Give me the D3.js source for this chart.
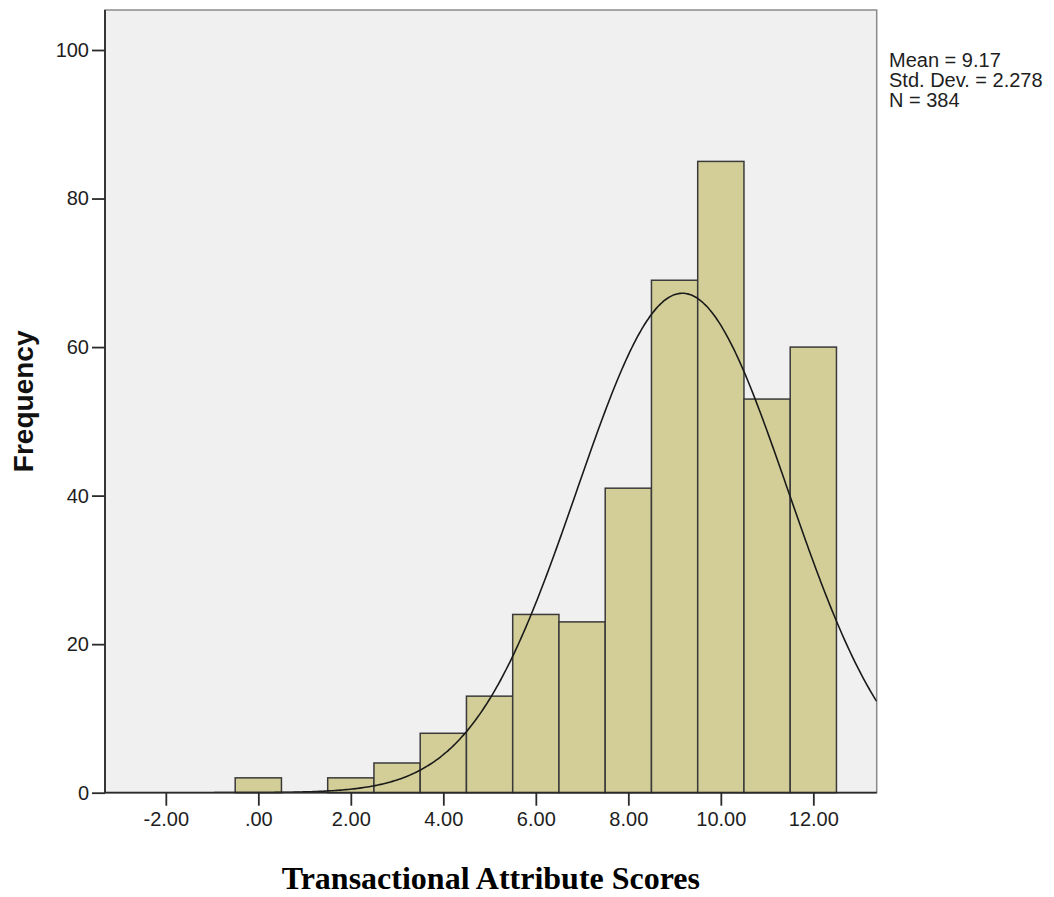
<!DOCTYPE html>
<html>
<head>
<meta charset="utf-8">
<script src="https://cdn.jsdelivr.net/npm/d3@7"></script>
<style>
  html, body { margin: 0; padding: 0; background: #ffffff; }
  svg { display: block; }
  .tick text { font-family: "Liberation Sans", Arial, sans-serif; }
</style>
</head>
<body>
<svg id="chart" width="1054" height="897"></svg>
<script>
// Histogram bins (bin centre, width 1) and their frequencies
const binCenters = [0, 1, 2, 3, 4, 5, 6, 7, 8, 9, 10, 11, 12];
const frequencies = [2, 0, 2, 4, 8, 13, 24, 23, 41, 69, 85, 53, 60];

// Axis ticks
const xTicks = [-2, 0, 2, 4, 6, 8, 10, 12];
const xTickLabels = ["-2.00", ".00", "2.00", "4.00", "6.00", "8.00", "10.00", "12.00"];
const yTicks = [0, 20, 40, 60, 80, 100];

// Summary statistics shown beside the plot
const stats = { mean: 9.17, sd: 2.278, n: 384 };
const statLines = ["Mean = 9.17", "Std. Dev. = 2.278", "N = 384"];

const binWidth = 1;

const svg = d3.select("#chart");
const margin = { left: 105, top: 10, right: 1054 - 876.7, bottom: 897 - 792.7 };
const width = 1054 - margin.left - margin.right;
const height = 897 - margin.top - margin.bottom;

const x = d3.scaleLinear().domain([-3.315, 13.37]).range([0, width]);
const y = d3.scaleLinear().domain([0, 100]).range([height, height - 100 * 7.427]);

const g = svg.append("g").attr("transform", `translate(${margin.left},${margin.top})`);

// Plot background with a grey frame on top and right
g.append("rect")
  .attr("x", 0).attr("y", 0).attr("width", width).attr("height", height)
  .attr("fill", "#f0f0f0").attr("stroke", "#8a8a8a").attr("stroke-width", 1.5);

g.append("defs").append("clipPath").attr("id", "plotClip")
  .append("rect").attr("x", 0).attr("y", 0).attr("width", width).attr("height", height);

// Bars
const bins = binCenters.map((c, i) => ({ c, f: frequencies[i] })).filter(d => d.f > 0);
g.append("g").selectAll("rect").data(bins).join("rect")
  .attr("x", d => x(d.c - binWidth / 2))
  .attr("width", d => x(d.c + binWidth / 2) - x(d.c - binWidth / 2))
  .attr("y", d => y(d.f))
  .attr("height", d => y(0) - y(d.f))
  .attr("fill", "#d3ce98")
  .attr("stroke", "#3a3a3a")
  .attr("stroke-width", 1.5);

// Fitted normal curve scaled to counts
const pdf = v => stats.n * binWidth / (stats.sd * Math.sqrt(2 * Math.PI)) *
  Math.exp(-0.5 * Math.pow((v - stats.mean) / stats.sd, 2));
const xs = d3.range(0, 401).map(i => x.domain()[0] + (x.domain()[1] - x.domain()[0]) * i / 400);
g.append("path")
  .datum(xs)
  .attr("clip-path", "url(#plotClip)")
  .attr("fill", "none")
  .attr("stroke", "#1a1a1a")
  .attr("stroke-width", 1.6)
  .attr("d", d3.line().x(d => x(d)).y(d => y(pdf(d))).curve(d3.curveBasis));

// Axes
const xAxis = g.append("g")
  .attr("transform", `translate(0,${height})`)
  .call(d3.axisBottom(x).tickValues(xTicks)
    .tickFormat((d, i) => xTickLabels[i])
    .tickSize(13).tickSizeOuter(0).tickPadding(6));
const yAxis = g.append("g")
  .call(d3.axisLeft(y).tickValues(yTicks).tickFormat(d3.format("d")).tickSize(13).tickSizeOuter(0).tickPadding(3));

[xAxis, yAxis].forEach(a => {
  a.select(".domain").attr("stroke", "#2a2a2a").attr("stroke-width", 1.8);
  a.selectAll(".tick line").attr("stroke", "#2a2a2a").attr("stroke-width", 1.8);
  a.selectAll(".tick text").attr("font-size", 20).attr("fill", "#1e1e1e");
});
// keep the axis line exactly on the plot edges
xAxis.select(".domain").attr("d", `M0,0H${width}`);
yAxis.select(".domain").attr("d", `M0,0V${height}`);

// Axis titles
svg.append("text")
  .attr("transform", `translate(33,${margin.top + height / 2}) rotate(-90)`)
  .attr("text-anchor", "middle")
  .attr("font-family", "'Liberation Sans', Arial, sans-serif")
  .attr("font-weight", "bold")
  .attr("font-size", 28)
  .attr("fill", "#111")
  .text("Frequency");

svg.append("text")
  .attr("x", margin.left + width / 2)
  .attr("y", 889)
  .attr("text-anchor", "middle")
  .attr("font-family", "'Liberation Serif', 'Times New Roman', serif")
  .attr("font-weight", "bold")
  .attr("font-size", 32)
  .attr("fill", "#000")
  .text("Transactional Attribute Scores");

// Statistics block
svg.append("g").selectAll("text").data(statLines).join("text")
  .attr("x", 889)
  .attr("y", (d, i) => 67 + i * 20)
  .attr("font-family", "'Liberation Sans', Arial, sans-serif")
  .attr("font-size", 20)
  .attr("fill", "#1e1e1e")
  .text(d => d);
</script>
</body>
</html>
